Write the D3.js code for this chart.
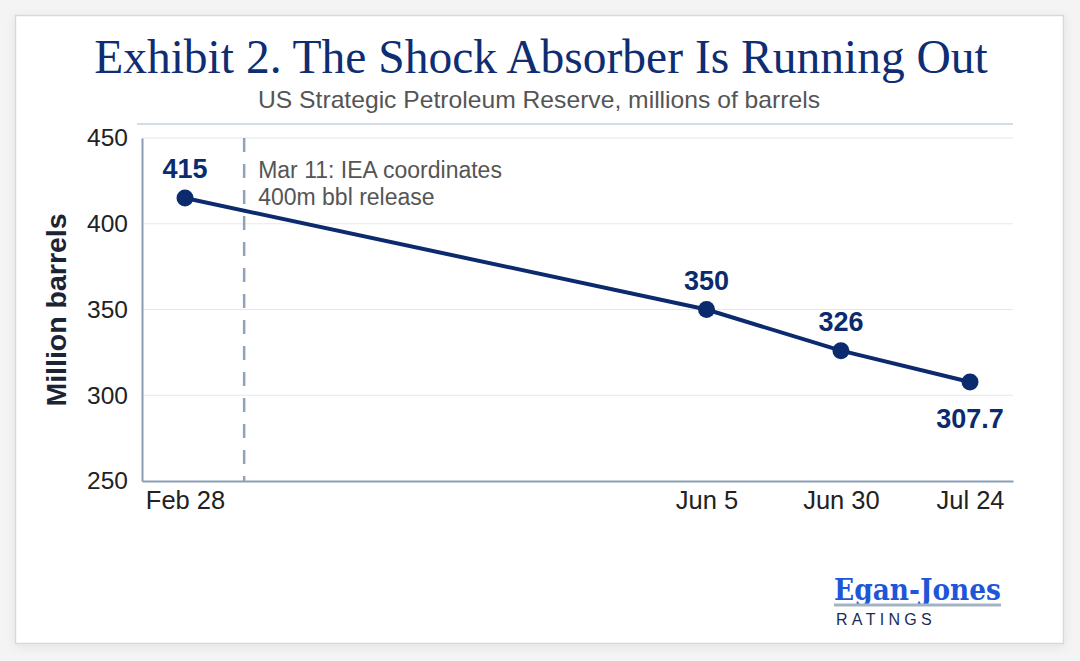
<!DOCTYPE html>
<html>
<head>
<meta charset="utf-8">
<script src="https://cdn.jsdelivr.net/npm/d3@7"></script>
<style>
  html, body { margin: 0; padding: 0; background: #f4f4f5; }
  svg { display: block; }
</style>
</head>
<body>
<div id="chart"></div>
<script>
// data
const dates = ['2026-02-28', '2026-06-05', '2026-06-30', '2026-07-24']
const values = [415, 350, 326, 307.7]
const valueLabels = ['415', '350', '326', '307.7']
const labelSide = ['above', 'above', 'above', 'below']
const tickLabels = ['Feb 28', 'Jun 5', 'Jun 30', 'Jul 24']
const yTicks = [250, 300, 350, 400, 450]
const eventDate = '2026-03-11'
const eventText = ['Mar 11: IEA coordinates', '400m bbl release']

const W = 1080, H = 661
const navy = '#0c2a6e'
const sans = '"Liberation Sans", Arial, sans-serif'
const parse = d3.utcParse('%Y-%m-%d')
const points = dates.map((d, i) => ({ date: parse(d), value: values[i], label: valueLabels[i], side: labelSide[i] }))

const svg = d3.select('#chart').append('svg').attr('width', W).attr('height', H)

const defs = svg.append('defs')
const f = defs.append('filter').attr('id', 'shadow').attr('x', '-5%').attr('y', '-5%').attr('width', '110%').attr('height', '110%')
f.append('feDropShadow').attr('dx', 0).attr('dy', 2).attr('stdDeviation', 5).attr('flood-color', '#000').attr('flood-opacity', 0.08)

// card
svg.append('rect')
    .attr('x', 15.5).attr('y', 15.5).attr('width', 1048).attr('height', 628)
    .attr('fill', '#fff').attr('stroke', '#d3d9e3').attr('stroke-width', 1.5)
    .attr('filter', 'url(#shadow)')

svg.append('text')
    .attr('x', 541).attr('y', 73)
    .attr('text-anchor', 'middle')
    .attr('font-family', '"Liberation Serif", "Times New Roman", serif')
    .attr('font-size', 47.5)
    .attr('fill', '#0e2d72')
    .text('Exhibit 2. The Shock Absorber Is Running Out')

svg.append('text')
    .attr('x', 539).attr('y', 108)
    .attr('text-anchor', 'middle')
    .attr('font-family', sans)
    .attr('font-size', 24)
    .attr('fill', '#555')
    .attr('textLength', 562).attr('lengthAdjust', 'spacingAndGlyphs')
    .text('US Strategic Petroleum Reserve, millions of barrels')

svg.append('line')
    .attr('x1', 137).attr('x2', 1013).attr('y1', 124).attr('y2', 124)
    .attr('stroke', '#d6dce7').attr('stroke-width', 2)

const margin = { left: 142, right: 1013, top: 138, bottom: 481 }

const x = d3.scaleUtc()
    .domain([d3.utcDay.offset(points[0].date, -8), d3.utcDay.offset(points[3].date, 8)])
    .range([margin.left, margin.right])
const y = d3.scaleLinear().domain([250, 450]).range([margin.bottom, margin.top])

// grid
svg.append('g')
    .selectAll('line')
    .data(yTicks.slice(1))
    .join('line')
    .attr('x1', margin.left).attr('x2', margin.right)
    .attr('y1', d => y(d)).attr('y2', d => y(d))
    .attr('stroke', '#e6e8ec').attr('stroke-width', 1)

// y axis
const yAxis = svg.append('g')
    .attr('transform', `translate(${margin.left},0)`)
    .call(d3.axisLeft(y).tickValues(yTicks).tickSize(0).tickPadding(14))
yAxis.select('.domain').attr('stroke', '#8a9cb6').attr('stroke-width', 2)
yAxis.selectAll('text')
    .attr('font-family', sans)
    .attr('font-size', 24.5).attr('fill', '#222')

// x axis
const xAxis = svg.append('g')
    .attr('transform', `translate(0,${margin.bottom})`)
    .call(d3.axisBottom(x).tickValues(points.map(p => p.date)).tickFormat((d, i) => tickLabels[i]).tickSize(0).tickPadding(10))
xAxis.select('.domain').attr('stroke', '#8a9cb6').attr('stroke-width', 2)
xAxis.selectAll('text')
    .attr('font-family', sans)
    .attr('font-size', 25.5).attr('fill', '#222')

// axis title
svg.append('text')
    .attr('transform', `translate(66,310) rotate(-90)`)
    .attr('text-anchor', 'middle')
    .attr('font-family', sans)
    .attr('font-size', 28.5).attr('font-weight', 'bold')
    .attr('fill', '#1c2434')
    .text('Million barrels')

// event marker
const ex = x(parse(eventDate))
svg.append('line')
    .attr('x1', ex).attr('x2', ex).attr('y1', margin.top).attr('y2', margin.bottom)
    .attr('stroke', '#8fa4ba').attr('stroke-width', 2.5).attr('stroke-dasharray', '14,12')

svg.append('text')
    .attr('font-family', sans)
    .attr('font-size', 23).attr('fill', '#555')
    .selectAll('tspan')
    .data(eventText)
    .join('tspan')
    .attr('x', ex + 14).attr('y', (d, i) => 178 + i * 27)
    .text(d => d)

// line
svg.append('path')
    .datum(points)
    .attr('fill', 'none').attr('stroke', navy).attr('stroke-width', 4)
    .attr('stroke-linejoin', 'round')
    .attr('d', d3.line().x(d => x(d.date)).y(d => y(d.value)))

svg.append('g')
    .selectAll('circle')
    .data(points)
    .join('circle')
    .attr('cx', d => x(d.date)).attr('cy', d => y(d.value)).attr('r', 8.5)
    .attr('fill', navy)

svg.append('g')
    .selectAll('text')
    .data(points)
    .join('text')
    .attr('x', d => x(d.date))
    .attr('y', d => y(d.value) + (d.side === 'below' ? 46 : -20))
    .attr('text-anchor', 'middle')
    .attr('font-family', sans)
    .attr('font-size', 27).attr('font-weight', 'bold')
    .attr('fill', navy)
    .text(d => d.label)

// logo
const logo = svg.append('g')
logo.append('text')
    .attr('x', 834).attr('y', 600)
    .attr('font-family', '"DejaVu Serif", serif')
    .attr('font-size', 30).attr('font-weight', 'bold')
    .attr('fill', '#1e56d8')
    .attr('textLength', 167).attr('lengthAdjust', 'spacingAndGlyphs')
    .text('Egan-Jones')
logo.append('rect')
    .attr('x', 834).attr('y', 603.5).attr('width', 167).attr('height', 3)
    .attr('fill', '#a3b3c4')
logo.append('text')
    .attr('x', 836).attr('y', 625)
    .attr('font-family', sans)
    .attr('font-size', 16)
    .attr('fill', '#1b2b55')
    .attr('letter-spacing', 4.3)
    .text('RATINGS')
</script>
</body>
</html>
